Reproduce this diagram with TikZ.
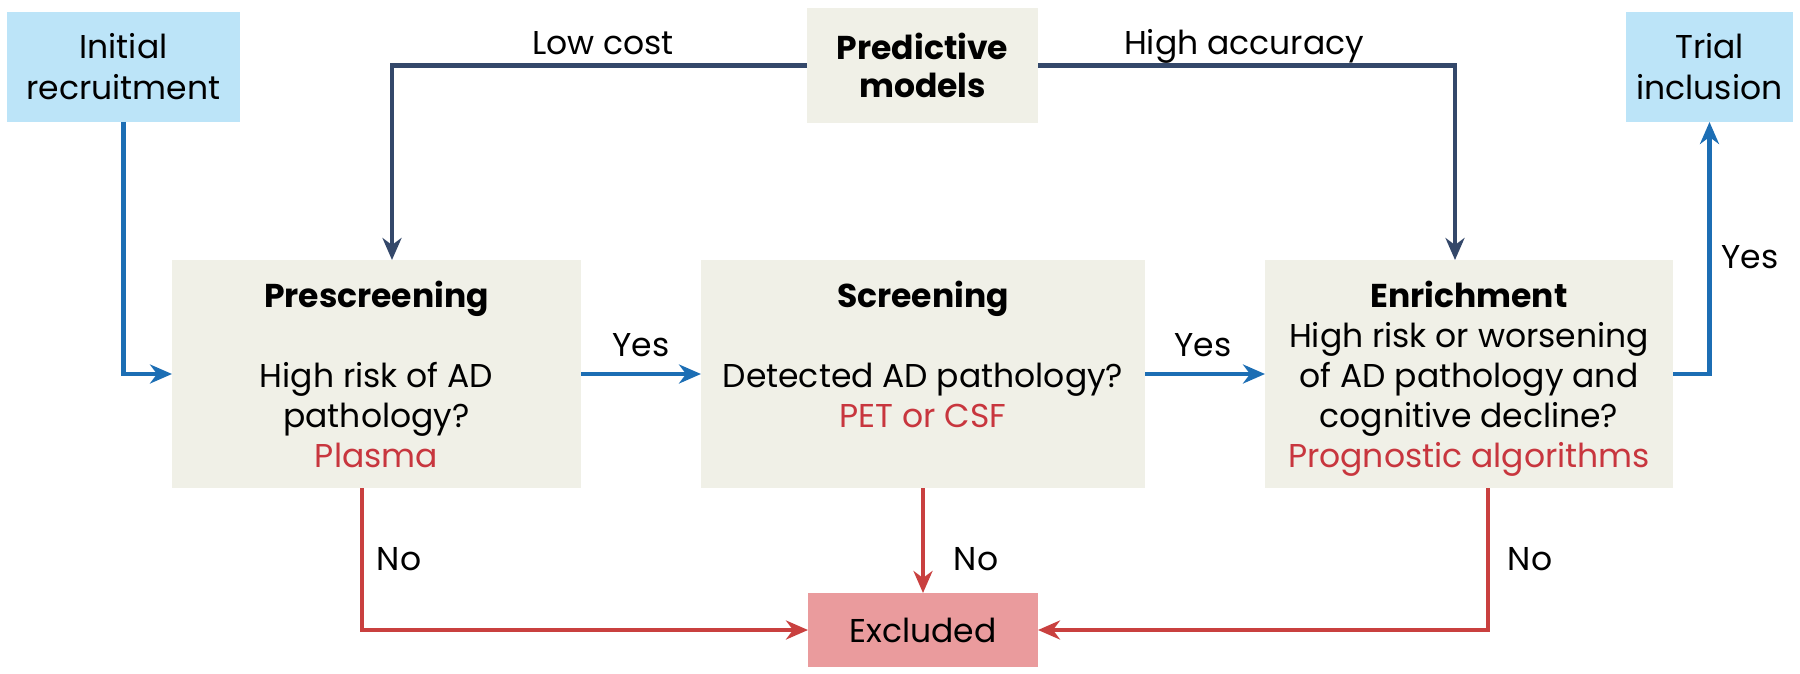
\documentclass[tikz,border=0pt]{standalone}
\usepackage{fontspec}
\setmainfont{Poppins}
\usetikzlibrary{arrows.meta}
\definecolor{boxblue}{HTML}{BCE4F8}
\definecolor{boxbeige}{HTML}{F0F0E7}
\definecolor{boxred}{HTML}{EA9B9D}
\definecolor{lineblue}{HTML}{1C6EB4}
\definecolor{linenavy}{HTML}{34486A}
\definecolor{linered}{HTML}{C9403F}
\definecolor{textred}{HTML}{C8363E}
\begin{document}
\begin{tikzpicture}[x=0.5pt,y=-0.5pt,
  every node/.style={inner sep=0pt, outer sep=0pt},
  txt/.style={font=\fontsize{16.5}{20}\selectfont, align=center},
  ttl/.style={font=\fontsize{16.5}{20}\selectfont\bfseries, align=center},
  bluebox/.style={fill=boxblue, draw=none, align=center, font=\fontsize{16.5}{20.5}\selectfont, minimum height=55pt},
  beigebox/.style={fill=boxbeige, draw=none, minimum height=114pt},
  redbox/.style={fill=boxred, draw=none, minimum width=115pt, minimum height=37pt},
  conn/.style={line width=2.3pt, -{Stealth[length=11pt,width=9.5pt,inset=3.5pt]}},
  bconn/.style={conn, draw=lineblue},
  nconn/.style={conn, draw=linenavy},
  rconn/.style={conn, draw=linered},
  lbl/.style={font=\fontsize{16.5}{20}\selectfont, anchor=base}
]
\useasboundingbox (0,0) rectangle (1800,674);

% boxes
\node[bluebox, minimum width=116.5pt] (init) at (123.5,67) {Initial\\recruitment};
\node[bluebox, minimum width=83.5pt] (trial) at (1709.5,67) {Trial\\inclusion};
\node[fill=boxbeige, minimum width=115.5pt, minimum height=57.5pt, align=center,
      font=\fontsize{16.5}{19}\selectfont\bfseries] (pred) at (922.5,65.5) {Predictive\\models};
\node[beigebox, minimum width=204.5pt] (pre) at (376.5,374) {};
\node[beigebox, minimum width=222pt] (scr) at (923,374) {};
\node[beigebox, minimum width=204pt] (enr) at (1469,374) {};
\node[redbox, font=\fontsize{16.5}{20}\selectfont] (exc) at (923,630) {Excluded};

% box texts (base anchor = baseline of the last line)
\node[ttl, anchor=base] (preT) at (376.5,307) {Prescreening};
\node[txt, anchor=base] (preB) at (376.5,467) {High risk of AD\\pathology?\\\textcolor{textred}{Plasma}};
\node[ttl, anchor=base] (scrT) at (923,307) {Screening};
\node[txt, anchor=base] (scrB) at (923,427) {Detected AD pathology?\\\textcolor{textred}{PET or CSF}};
\node[ttl, anchor=base] (enrT) at (1469,307) {Enrichment};
\node[txt, anchor=base] (enrB) at (1469,467) {High risk or worsening\\of AD pathology and\\cognitive decline?\\\textcolor{textred}{Prognostic algorithms}};

% connectors
\draw[nconn] (pred.west) -| ([xshift=7.75pt]pre.north);
\draw[nconn] (pred.east) -| ([xshift=-7pt]enr.north);
\draw[bconn] (init.south) |- (pre.west);
\draw[bconn] (pre.east) -- (scr.west);
\draw[bconn] (scr.east) -- (enr.west);
\draw[bconn] (enr.east) -| (trial.south);
\draw[rconn] ([xshift=-7.25pt]pre.south) |- (exc.west);
\draw[rconn] (scr.south) -- (exc.north);
\draw[rconn] ([xshift=9.5pt]enr.south) |- (exc.east);

% labels
\node[lbl] (lLow) at (603,55) {Low cost};
\node[lbl] (lHigh) at (1244,55) {High accuracy};
\node[lbl] (lYes1) at (641,356) {Yes};
\node[lbl] (lYes2) at (1203,356) {Yes};
\node[lbl] (lYes3) at (1750,268) {Yes};
\node[lbl] (lNo1) at (399,570) {No};
\node[lbl] (lNo2) at (976,570) {No};
\node[lbl] (lNo3) at (1530,570) {No};
\end{tikzpicture}
\end{document}
